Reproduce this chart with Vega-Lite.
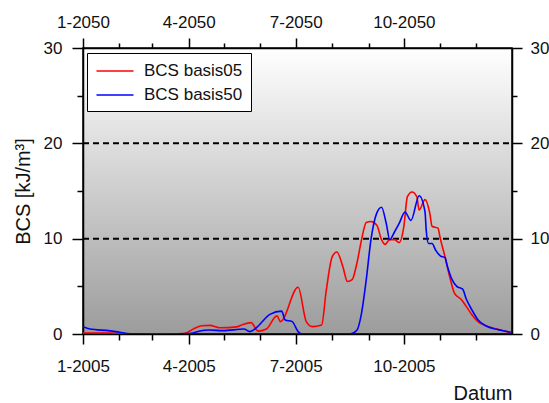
{
  "$schema": "https://vega.github.io/schema/vega-lite/v6.json",
  "width": 429,
  "height": 286,
  "autosize": "none",
  "padding": {"left": 83, "top": 48, "right": 37, "bottom": 69},
  "background": "white",
  "datasets": {
    "bcs": [
      {"date": "2005-01-01", "series": "BCS basis05", "value": 0.1},
      {"date": "2005-01-24", "series": "BCS basis05", "value": 0.1},
      {"date": "2005-02-10", "series": "BCS basis05", "value": 0.02},
      {"date": "2005-03-16", "series": "BCS basis05", "value": 0.0},
      {"date": "2005-03-28", "series": "BCS basis05", "value": 0.05},
      {"date": "2005-04-06", "series": "BCS basis05", "value": 0.6},
      {"date": "2005-04-12", "series": "BCS basis05", "value": 0.87},
      {"date": "2005-04-19", "series": "BCS basis05", "value": 0.9},
      {"date": "2005-04-27", "series": "BCS basis05", "value": 0.65},
      {"date": "2005-05-12", "series": "BCS basis05", "value": 0.75},
      {"date": "2005-05-17", "series": "BCS basis05", "value": 1.0},
      {"date": "2005-05-24", "series": "BCS basis05", "value": 1.19},
      {"date": "2005-05-30", "series": "BCS basis05", "value": 0.3},
      {"date": "2005-06-06", "series": "BCS basis05", "value": 0.52},
      {"date": "2005-06-15", "series": "BCS basis05", "value": 1.9},
      {"date": "2005-06-18", "series": "BCS basis05", "value": 1.3},
      {"date": "2005-07-03", "series": "BCS basis05", "value": 4.9},
      {"date": "2005-07-10", "series": "BCS basis05", "value": 1.3},
      {"date": "2005-07-15", "series": "BCS basis05", "value": 0.77},
      {"date": "2005-07-23", "series": "BCS basis05", "value": 0.94},
      {"date": "2005-07-27", "series": "BCS basis05", "value": 4.6},
      {"date": "2005-08-01", "series": "BCS basis05", "value": 8.1},
      {"date": "2005-08-05", "series": "BCS basis05", "value": 8.6},
      {"date": "2005-08-10", "series": "BCS basis05", "value": 7.1},
      {"date": "2005-08-14", "series": "BCS basis05", "value": 5.5},
      {"date": "2005-08-18", "series": "BCS basis05", "value": 5.7},
      {"date": "2005-08-22", "series": "BCS basis05", "value": 7.4},
      {"date": "2005-08-26", "series": "BCS basis05", "value": 9.9},
      {"date": "2005-08-30", "series": "BCS basis05", "value": 11.7},
      {"date": "2005-09-03", "series": "BCS basis05", "value": 11.8},
      {"date": "2005-09-08", "series": "BCS basis05", "value": 11.4},
      {"date": "2005-09-12", "series": "BCS basis05", "value": 9.9},
      {"date": "2005-09-15", "series": "BCS basis05", "value": 9.4},
      {"date": "2005-09-19", "series": "BCS basis05", "value": 9.9},
      {"date": "2005-09-23", "series": "BCS basis05", "value": 9.9},
      {"date": "2005-09-27", "series": "BCS basis05", "value": 9.6},
      {"date": "2005-10-01", "series": "BCS basis05", "value": 11.3},
      {"date": "2005-10-04", "series": "BCS basis05", "value": 14.4},
      {"date": "2005-10-08", "series": "BCS basis05", "value": 14.9},
      {"date": "2005-10-12", "series": "BCS basis05", "value": 14.4},
      {"date": "2005-10-14", "series": "BCS basis05", "value": 13.0},
      {"date": "2005-10-19", "series": "BCS basis05", "value": 14.1},
      {"date": "2005-10-23", "series": "BCS basis05", "value": 12.7},
      {"date": "2005-10-25", "series": "BCS basis05", "value": 11.3},
      {"date": "2005-10-30", "series": "BCS basis05", "value": 11.1},
      {"date": "2005-11-01", "series": "BCS basis05", "value": 10.0},
      {"date": "2005-11-05", "series": "BCS basis05", "value": 8.1},
      {"date": "2005-11-09", "series": "BCS basis05", "value": 6.0},
      {"date": "2005-11-13", "series": "BCS basis05", "value": 4.3},
      {"date": "2005-11-19", "series": "BCS basis05", "value": 3.6},
      {"date": "2005-11-23", "series": "BCS basis05", "value": 2.9},
      {"date": "2005-11-28", "series": "BCS basis05", "value": 2.0},
      {"date": "2005-12-03", "series": "BCS basis05", "value": 1.3},
      {"date": "2005-12-10", "series": "BCS basis05", "value": 0.84},
      {"date": "2005-12-19", "series": "BCS basis05", "value": 0.52},
      {"date": "2005-12-31", "series": "BCS basis05", "value": 0.14},

      {"date": "2005-01-01", "series": "BCS basis50", "value": 0.77},
      {"date": "2005-01-07", "series": "BCS basis50", "value": 0.52},
      {"date": "2005-01-24", "series": "BCS basis50", "value": 0.33},
      {"date": "2005-02-01", "series": "BCS basis50", "value": 0.18},
      {"date": "2005-02-10", "series": "BCS basis50", "value": 0.03},
      {"date": "2005-03-16", "series": "BCS basis50", "value": 0.0},
      {"date": "2005-04-02", "series": "BCS basis50", "value": 0.05},
      {"date": "2005-04-14", "series": "BCS basis50", "value": 0.4},
      {"date": "2005-04-19", "series": "BCS basis50", "value": 0.42},
      {"date": "2005-04-30", "series": "BCS basis50", "value": 0.35},
      {"date": "2005-05-18", "series": "BCS basis50", "value": 0.52},
      {"date": "2005-05-23", "series": "BCS basis50", "value": 0.25},
      {"date": "2005-05-28", "series": "BCS basis50", "value": 0.6},
      {"date": "2005-06-09", "series": "BCS basis50", "value": 2.06},
      {"date": "2005-06-19", "series": "BCS basis50", "value": 2.4},
      {"date": "2005-06-22", "series": "BCS basis50", "value": 1.47},
      {"date": "2005-06-28", "series": "BCS basis50", "value": 1.3},
      {"date": "2005-07-03", "series": "BCS basis50", "value": 0.25},
      {"date": "2005-07-06", "series": "BCS basis50", "value": 0.0},
      {"date": "2005-08-16", "series": "BCS basis50", "value": 0.0},
      {"date": "2005-08-22", "series": "BCS basis50", "value": 0.4},
      {"date": "2005-08-26", "series": "BCS basis50", "value": 2.2},
      {"date": "2005-08-30", "series": "BCS basis50", "value": 5.7},
      {"date": "2005-09-03", "series": "BCS basis50", "value": 9.9},
      {"date": "2005-09-08", "series": "BCS basis50", "value": 12.7},
      {"date": "2005-09-12", "series": "BCS basis50", "value": 13.3},
      {"date": "2005-09-16", "series": "BCS basis50", "value": 11.6},
      {"date": "2005-09-19", "series": "BCS basis50", "value": 9.9},
      {"date": "2005-09-23", "series": "BCS basis50", "value": 10.7},
      {"date": "2005-09-27", "series": "BCS basis50", "value": 11.6},
      {"date": "2005-10-02", "series": "BCS basis50", "value": 12.8},
      {"date": "2005-10-07", "series": "BCS basis50", "value": 11.9},
      {"date": "2005-10-14", "series": "BCS basis50", "value": 14.5},
      {"date": "2005-10-19", "series": "BCS basis50", "value": 12.8},
      {"date": "2005-10-20", "series": "BCS basis50", "value": 10.9},
      {"date": "2005-10-22", "series": "BCS basis50", "value": 9.5},
      {"date": "2005-10-25", "series": "BCS basis50", "value": 9.5},
      {"date": "2005-10-28", "series": "BCS basis50", "value": 8.8},
      {"date": "2005-11-01", "series": "BCS basis50", "value": 8.2},
      {"date": "2005-11-05", "series": "BCS basis50", "value": 8.0},
      {"date": "2005-11-07", "series": "BCS basis50", "value": 7.1},
      {"date": "2005-11-11", "series": "BCS basis50", "value": 5.7},
      {"date": "2005-11-15", "series": "BCS basis50", "value": 5.0},
      {"date": "2005-11-20", "series": "BCS basis50", "value": 4.7},
      {"date": "2005-11-23", "series": "BCS basis50", "value": 3.7},
      {"date": "2005-11-28", "series": "BCS basis50", "value": 2.5},
      {"date": "2005-12-03", "series": "BCS basis50", "value": 1.5},
      {"date": "2005-12-10", "series": "BCS basis50", "value": 0.84},
      {"date": "2005-12-19", "series": "BCS basis50", "value": 0.49},
      {"date": "2005-12-31", "series": "BCS basis50", "value": 0.18}
    ],
    "refs": [
      {"level": 10, "start": "2005-01-01", "end": "2006-01-01"},
      {"level": 20, "start": "2005-01-01", "end": "2006-01-01"}
    ]
  },
  "resolve": {
    "scale": {"x": "shared", "y": "shared"},
    "axis": {"x": "independent", "y": "independent"}
  },
  "layer": [
    {
      "data": {"name": "refs"},
      "mark": {"type": "rule", "color": "black", "strokeWidth": 2, "strokeDash": [6, 4]},
      "encoding": {
        "x": {
          "field": "start", "type": "temporal",
          "scale": {"type": "utc", "domain": [{"year": 2005, "month": 1, "date": 1, "utc": true}, {"year": 2006, "month": 1, "date": 1, "utc": true}]},
          "axis": {
            "orient": "top", "title": null,
            "values": [
              {"year": 2005, "month": 1, "date": 1, "utc": true},
              {"year": 2005, "month": 2, "date": 1, "utc": true},
              {"year": 2005, "month": 3, "date": 1, "utc": true},
              {"year": 2005, "month": 4, "date": 1, "utc": true},
              {"year": 2005, "month": 5, "date": 1, "utc": true},
              {"year": 2005, "month": 6, "date": 1, "utc": true},
              {"year": 2005, "month": 7, "date": 1, "utc": true},
              {"year": 2005, "month": 8, "date": 1, "utc": true},
              {"year": 2005, "month": 9, "date": 1, "utc": true},
              {"year": 2005, "month": 10, "date": 1, "utc": true},
              {"year": 2005, "month": 11, "date": 1, "utc": true},
              {"year": 2005, "month": 12, "date": 1, "utc": true}
            ],
            "labelExpr": "utcmonth(datum.value) % 3 == 0 ? utcFormat(datum.value, '%-m') + '-2050' : ''",
            "tickSize": {"condition": {"test": "utcmonth(datum.value) % 3 == 0", "value": 10}, "value": 5},
            "labelPadding": 7
          }
        },
        "x2": {"field": "end"},
        "y": {
          "field": "level", "type": "quantitative",
          "scale": {"domain": [0, 30], "nice": false, "zero": true},
          "axis": {
            "orient": "right", "title": null,
            "values": [0, 5, 10, 15, 20, 25, 30],
            "labelExpr": "datum.value % 10 == 0 ? datum.label : ''",
            "tickSize": {"condition": {"test": "datum.value % 10 == 0", "value": 10}, "value": 5},
            "labelPadding": 8
          }
        }
      }
    },
    {
      "data": {"name": "bcs"},
      "mark": {"type": "line", "strokeWidth": 1.6, "interpolate": "monotone", "clip": true},
      "encoding": {
        "x": {
          "field": "date", "type": "temporal",
          "scale": {"type": "utc", "domain": [{"year": 2005, "month": 1, "date": 1, "utc": true}, {"year": 2006, "month": 1, "date": 1, "utc": true}]},
          "axis": {
            "orient": "bottom", "title": "Datum",
            "titleAnchor": "end", "titleFontSize": 20, "titlePadding": 9,
            "values": [
              {"year": 2005, "month": 1, "date": 1, "utc": true},
              {"year": 2005, "month": 2, "date": 1, "utc": true},
              {"year": 2005, "month": 3, "date": 1, "utc": true},
              {"year": 2005, "month": 4, "date": 1, "utc": true},
              {"year": 2005, "month": 5, "date": 1, "utc": true},
              {"year": 2005, "month": 6, "date": 1, "utc": true},
              {"year": 2005, "month": 7, "date": 1, "utc": true},
              {"year": 2005, "month": 8, "date": 1, "utc": true},
              {"year": 2005, "month": 9, "date": 1, "utc": true},
              {"year": 2005, "month": 10, "date": 1, "utc": true},
              {"year": 2005, "month": 11, "date": 1, "utc": true},
              {"year": 2005, "month": 12, "date": 1, "utc": true}
            ],
            "labelExpr": "utcmonth(datum.value) % 3 == 0 ? utcFormat(datum.value, '%-m-%Y') : ''",
            "tickSize": {"condition": {"test": "utcmonth(datum.value) % 3 == 0", "value": 10}, "value": 6},
            "labelPadding": 14
          }
        },
        "y": {
          "field": "value", "type": "quantitative",
          "scale": {"domain": [0, 30], "nice": false, "zero": true},
          "axis": {
            "orient": "left", "title": "BCS [kJ/m³]",
            "titleFontSize": 20, "titlePadding": 10,
            "values": [0, 5, 10, 15, 20, 25, 30],
            "labelExpr": "datum.value % 10 == 0 ? datum.label : ''",
            "tickSize": {"condition": {"test": "datum.value % 10 == 0", "value": 11}, "value": 6},
            "labelPadding": 10
          }
        },
        "color": {
          "field": "series", "type": "nominal",
          "scale": {"domain": ["BCS basis05", "BCS basis50"], "range": ["#ff0000", "#0000ff"]},
          "legend": {
            "title": null, "orient": "none", "legendX": 4, "legendY": 5,
            "fillColor": "white", "strokeColor": "black", "padding": 8,
            "symbolType": "M-2,0H2", "symbolSize": 342, "symbolStrokeWidth": 1.5,
            "symbolFillColor": "transparent", "symbolOffset": 10,
            "labelFontSize": 17, "labelOffset": 19, "rowPadding": 6
          }
        }
      }
    }
  ],
  "config": {
    "font": "Liberation Sans",
    "view": {
      "stroke": "black",
      "strokeWidth": 1.5,
      "fill": {
        "gradient": "linear", "x1": 0, "y1": 0, "x2": 0, "y2": 1,
        "stops": [{"offset": 0, "color": "#ffffff"}, {"offset": 1, "color": "#9c9c9c"}]
      }
    },
    "axis": {
      "grid": false,
      "domainColor": "black",
      "domainWidth": 1.5,
      "tickColor": "black",
      "tickWidth": 1.5,
      "labelFontSize": 17,
      "labelColor": "#111111",
      "titleColor": "#111111",
      "titleFontWeight": "normal",
      "labelFlush": false,
      "labelOverlap": false
    },
    "legend": {
      "labelColor": "#111111",
      "labelFont": "Liberation Sans"
    }
  }
}
